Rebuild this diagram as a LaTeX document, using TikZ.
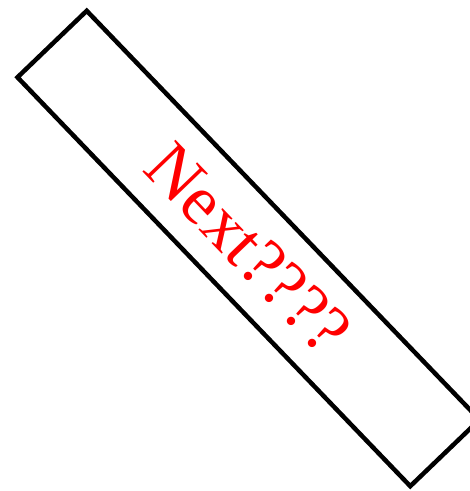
\documentclass[tikz,border=0pt]{standalone}
\usepackage{fontspec}
\setmainfont{Liberation Serif}
\tikzset{tiltbox/.style={draw=black, line width=4.5pt, minimum width=567pt, minimum height=96pt, inner sep=0pt, rotate=-46.15, text=red, font=\fontsize{70}{70}\selectfont}}
\begin{document}
\begin{tikzpicture}[x=1pt,y=1pt]
\useasboundingbox (0,0) rectangle (470,491);
\clip (0,0) rectangle (470,491);
\node[tiltbox] (box) at (248.5,242.5) {Next????};
\end{tikzpicture}
\end{document}
